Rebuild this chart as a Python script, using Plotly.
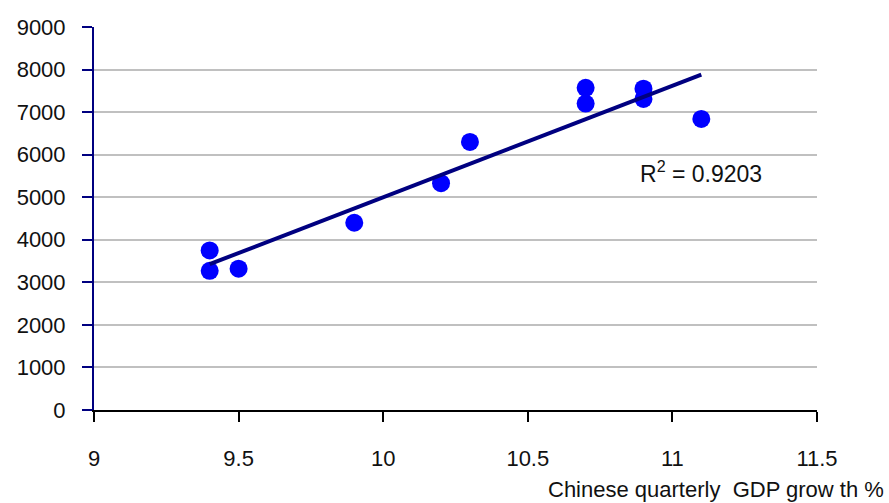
import numpy as np
import plotly.graph_objects as go

gdp_growth = [9.4, 9.4, 9.5, 9.9, 10.2, 10.3, 10.7, 10.7, 10.9, 10.9, 11.1]
values = [3750, 3270, 3320, 4400, 5330, 6300, 7570, 7200, 7550, 7310, 6840]
x_ticks = [9, 9.5, 10, 10.5, 11, 11.5]
x_tick_labels = ["9", "9.5", "10", "10.5", "11", "11.5"]
y_ticks = list(range(0, 10000, 1000))
r2_label = "R<sup>2</sup> = 0.9203"
x_title = "Chinese quarterly  GDP grow th %"

slope, intercept = np.polyfit(gdp_growth, values, 1)
fit_x = [min(gdp_growth), max(gdp_growth)]
fit_y = [slope * v + intercept for v in fit_x]

FONT = "Liberation Sans Narrow, Arial Narrow, Liberation Sans, Arial, sans-serif"

L, R, T, B = 94, 72, 27, 93
W, H = 889, 503

fig = go.Figure()
fig.add_trace(go.Scatter(
    x=gdp_growth, y=values, mode="markers",
    marker=dict(color="#0000ff", size=18, line=dict(width=0)),
    showlegend=False, hoverinfo="skip"))
fig.add_trace(go.Scatter(
    x=fit_x, y=fit_y, mode="lines",
    line=dict(color="#000080", width=4),
    showlegend=False, hoverinfo="skip"))

fig.update_layout(
    width=W, height=H,
    margin=dict(l=L, r=R, t=T, b=B, autoexpand=False),
    paper_bgcolor="white", plot_bgcolor="white",
    font=dict(family=FONT, size=22, color="#111111"),
    xaxis=dict(
        range=[9, 11.5], tickvals=x_ticks, ticktext=x_tick_labels,
        showgrid=False, zeroline=False, automargin=False,
        showline=True, linecolor="black", linewidth=2,
        ticks="outside", ticklen=10, tickwidth=2, tickcolor="black",
        ticklabelstandoff=18,
        tickfont=dict(family=FONT, size=22, color="#111111"),
    ),
    yaxis=dict(
        range=[0, 9000], tickvals=y_ticks,
        showgrid=True, gridcolor="#c0c0c0", gridwidth=2,
        zeroline=False, automargin=False,
        showline=True, linecolor="#000080", linewidth=2,
        ticks="outside", ticklen=10, tickwidth=2, tickcolor="#000080",
        ticklabelstandoff=12,
        tickfont=dict(family=FONT, size=22, color="#111111"),
    ),
)

pw = W - L - R
ph = H - T - B


def paper_xy(px, py):
    return (px - L) / pw, (H - B - py) / ph


ax, ay = paper_xy(638, 172)
fig.add_annotation(text=r2_label, x=ax, y=ay, xref="paper", yref="paper",
                   showarrow=False, xanchor="left", yanchor="middle",
                   font=dict(family=FONT, size=23, color="#111111"))
ax, ay = paper_xy(546, 489)
fig.add_annotation(text=x_title, x=ax, y=ay, xref="paper", yref="paper",
                   showarrow=False, xanchor="left", yanchor="middle",
                   font=dict(family=FONT, size=22, color="#111111"))

fig.write_html(
    "out.html",
    config={"displayModeBar": False},
    post_script="document.body.style.margin='0';document.body.style.overflow='hidden';",
)
